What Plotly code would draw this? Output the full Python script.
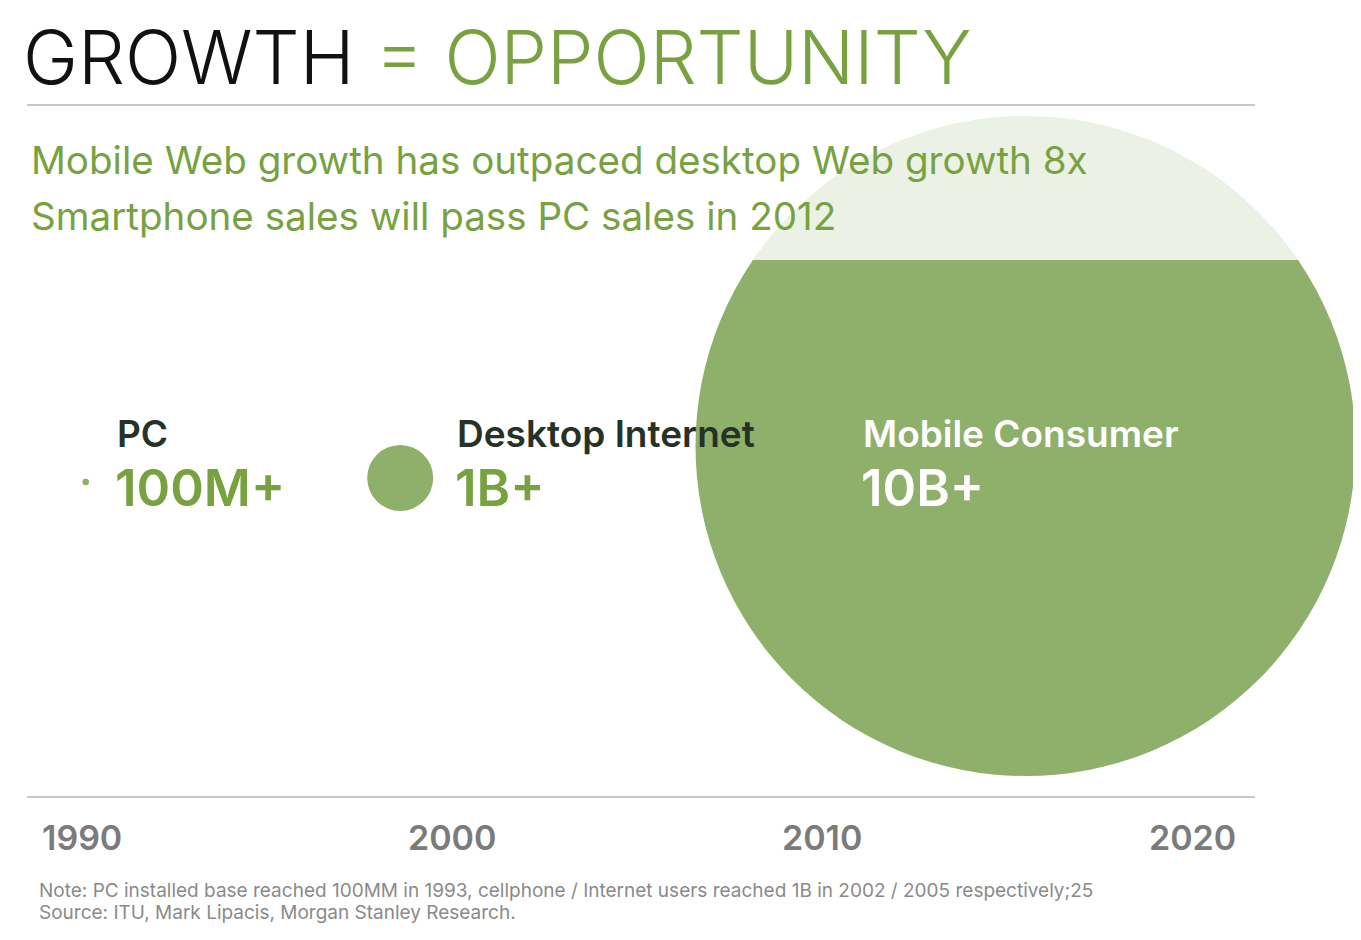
import plotly.graph_objects as go

# ---- data ----
categories = ["PC", "Desktop Internet", "Mobile Consumer"]
value_labels = ["100M+", "1B+", "10B+"]
values_bn = [0.1, 1.0, 10.0]          # installed base, billions
years = [1990.1, 1998.6, 2015.5]      # bubble position on the timeline
tick_years = [1990, 2000, 2010, 2020]
subtitles = ["Mobile Web growth has outpaced desktop Web growth 8x",
             "Smartphone sales will pass PC sales in 2012"]
note_lines = ["Note: PC installed base reached 100MM in 1993, cellphone / Internet users reached 1B in 2002 / 2005 respectively;25",
              "Source: ITU, Mark Lipacis, Morgan Stanley Research."]

# ---- style ----
GREEN = "#77a23f"
BUBBLE = "#8eb06a"
DARK = "#263226"
GRAY = "#7b7b7b"
NOTE = "#8a8a8a"
LINE = "#c8c8c8"
FONT = "Inter"
OFF = 8                      # page body margin
W, H = 1361 - OFF, 940 - OFF
PX_PER_YEAR = 37.0
X0_YEAR = 1990 - (82 - OFF) / PX_PER_YEAR


def px(x):
    return (x - OFF) / W


def py(y):
    return y - OFF


bubble_y = [482, 478, 446]
diam_per_bn = 66

fig = go.Figure()
fig.add_trace(go.Scatter(
    x=years, y=[py(v) for v in bubble_y], mode="markers",
    marker=dict(size=[v * diam_per_bn for v in values_bn], sizemode="diameter",
                color=BUBBLE, line=dict(width=0), opacity=1),
    cliponaxis=False, hoverinfo="skip", showlegend=False))

shapes = [
    dict(type="line", xref="paper", yref="y", x0=px(27), x1=px(1255), y0=py(105), y1=py(105),
         line=dict(color=LINE, width=2)),
    dict(type="line", xref="paper", yref="y", x0=px(27), x1=px(1255), y0=py(797), y1=py(797),
         line=dict(color=LINE, width=2)),
    # pale wash over the top of the big bubble, behind the subtitle
    dict(type="rect", xref="paper", yref="y", x0=px(680), x1=1, y0=py(110), y1=py(260),
         fillcolor="white", opacity=0.82, line=dict(width=0), layer="above"),
]

ann = []
ann.append(dict(text="GROWTH <span style='color:%s'>= OPPORTUNITY</span>" % GREEN,
                x=px(21), xref="paper", y=py(57), yref="y", xanchor="left", yanchor="middle",
                showarrow=False, font=dict(family=FONT, size=74, color="#111111", weight=300)))
for i, s in enumerate(subtitles):
    ann.append(dict(text=s, x=px(29), xref="paper", y=py(160 + 56 * i), yref="y",
                    xanchor="left", yanchor="middle", showarrow=False,
                    font=dict(family=FONT, size=38.6, color=GREEN, weight=400)))

label_x = [118, 458, 864]
for i, (c, v) in enumerate(zip(categories, value_labels)):
    col_c = "white" if i == 2 else DARK
    col_v = "white" if i == 2 else GREEN
    ann.append(dict(text=c, x=px(label_x[i] - 3), xref="paper", y=py(433), yref="y",
                    xanchor="left", yanchor="middle", showarrow=False,
                    font=dict(family=FONT, size=37, color=col_c, weight=600)))
    ann.append(dict(text=v, x=px(label_x[i] - 5), xref="paper", y=py(487), yref="y",
                    xanchor="left", yanchor="middle", showarrow=False,
                    font=dict(family=FONT, size=51, color=col_v, weight=600)))

for t in tick_years:
    ann.append(dict(text=str(t), x=t, xref="x", y=py(837), yref="y",
                    xanchor="center", yanchor="middle", showarrow=False,
                    font=dict(family=FONT, size=34, color=GRAY, weight=600)))

for i, n in enumerate(note_lines):
    ann.append(dict(text=n, x=px(37), xref="paper", y=py(890 + 22 * i), yref="y",
                    xanchor="left", yanchor="middle", showarrow=False,
                    font=dict(family=FONT, size=19, color=NOTE)))

fig.update_layout(
    width=W, height=H, margin=dict(l=0, r=0, t=0, b=0),
    paper_bgcolor="white", plot_bgcolor="white",
    xaxis=dict(range=[X0_YEAR, X0_YEAR + W / PX_PER_YEAR], visible=False, fixedrange=True),
    yaxis=dict(range=[H, 0], visible=False, fixedrange=True),
    shapes=shapes, annotations=ann, showlegend=False,
)
fig.write_html("out.html")
